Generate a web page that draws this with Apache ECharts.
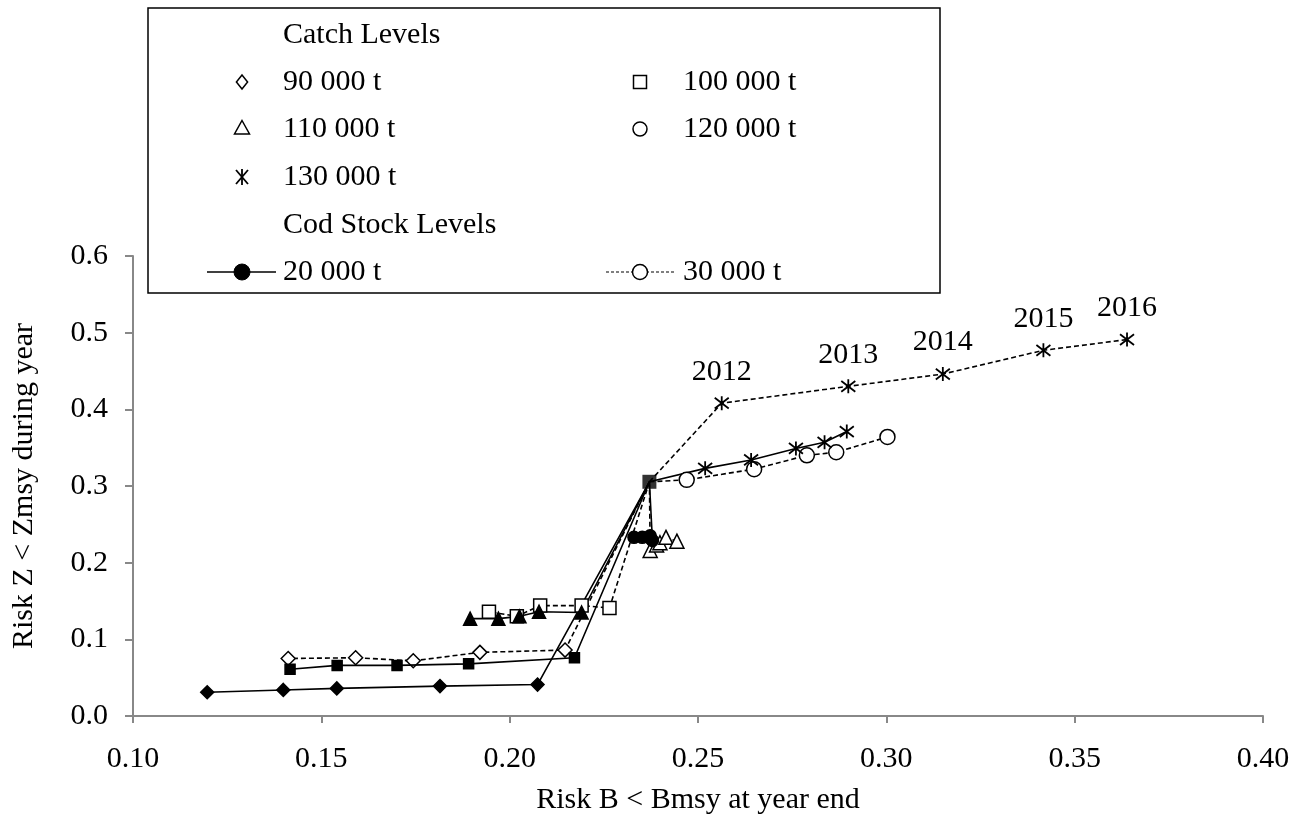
<!DOCTYPE html>
<html>
<head>
<meta charset="utf-8">
<script src="https://cdn.jsdelivr.net/npm/echarts@6/dist/echarts.min.js"></script>
<style>html,body{margin:0;padding:0;background:#fff}#c{width:1303px;height:826px}</style>
</head>
<body>
<div id="c"></div>
<script>
// Common starting point of all projections
const startPt = [0.2371, 0.3055];
// Catch 90 000 t
const c90_cod20 = [[0.2074,0.041],[0.1815,0.039],[0.1541,0.036],[0.1399,0.034],[0.1197,0.031]];
const c90_cod30 = [[0.2147,0.086],[0.1921,0.083],[0.1744,0.072],[0.1591,0.076],[0.1412,0.075]];
// Catch 100 000 t
const c100_cod20 = [[0.2172,0.076],[0.1891,0.068],[0.1701,0.066],[0.1542,0.066],[0.1417,0.061]];
const c100_cod30 = [[0.2265,0.141],[0.2191,0.144],[0.2081,0.144],[0.2019,0.130],[0.1945,0.136]];
// Catch 110 000 t
const c110_cod20 = [[0.2191,0.135],[0.2078,0.136],[0.2026,0.130],[0.1970,0.127],[0.1895,0.127]];
const c110_cod30 = [[0.2373,0.216],[0.2390,0.223],[0.2399,0.226],[0.2415,0.233],[0.2444,0.228]];
// Catch 120 000 t
const c120_cod20 = [[0.2379,0.229],[0.2376,0.231],[0.2373,0.235],[0.2352,0.233],[0.2330,0.233]];
const c120_cod30 = [[0.2470,0.308],[0.2649,0.322],[0.2789,0.340],[0.2867,0.344],[0.3003,0.364]];
// Catch 130 000 t
const c130_cod20 = [[0.2519,0.323],[0.2641,0.334],[0.2760,0.349],[0.2836,0.357],[0.2895,0.371]];
const c130_cod30 = [[0.2563,0.408],[0.2899,0.430],[0.3150,0.446],[0.3417,0.477],[0.3639,0.491]];
// Year labels of the projection steps
const years = ['2012','2013','2014','2015','2016'];
// Axis ticks
const xTicks = {min:0.10, max:0.40, step:0.05};
const yTicks = {min:0.0, max:0.6, step:0.1};

const FONT = '"Liberation Serif","Times New Roman",serif';
const ASTER = 'path://M0,0L10,10M10,0L0,10M5,-1.5L5,11.5';

function mk(name, pts, symbol, filled, dashed, size, z, labels) {
  const data = [{value: startPt, symbol: 'none', label:{show:false}}].concat(pts.map(p => ({value:p})));
  const isAst = symbol === ASTER;
  return {
    name, type:'line', data, z: z || 2,
    symbol, symbolSize: size, showSymbol:true,
    lineStyle:{color:'#000', width:1.6, type: dashed ? [5,3] : 'solid'},
    itemStyle:{color: isAst ? 'none' : (filled ? '#000' : '#fff'), borderColor:'#000', borderWidth: isAst ? 1.8 : 1.5, opacity:1},
    label: labels ? {show:true, position:'top', distance:7, fontFamily:FONT, fontSize:30, color:'#000',
      formatter: p => p.dataIndex > 0 ? labels[p.dataIndex-1] : ''} : {show:false},
    emphasis:{disabled:true}, animation:false
  };
}

const series = [
  mk('90 000 t / 20 000 t', c90_cod20, 'diamond', true, false, 13),
  mk('90 000 t / 30 000 t', c90_cod30, 'diamond', false, true, 14),
  mk('100 000 t / 30 000 t', c100_cod30, 'rect', false, true, 13),
  mk('110 000 t / 20 000 t', c110_cod20, 'triangle', true, false, 13),
  mk('110 000 t / 30 000 t', c110_cod30, 'triangle', false, true, 14),
  mk('120 000 t / 20 000 t', c120_cod20, 'circle', true, false, 12),
  mk('120 000 t / 30 000 t', c120_cod30, 'circle', false, true, 15),
  mk('130 000 t / 20 000 t', c130_cod20, ASTER, true, false, 14),
  mk('130 000 t / 30 000 t', c130_cod30, ASTER, false, true, 14, 2, years),
  mk('100 000 t / 20 000 t', c100_cod20, 'rect', true, false, 10, 3)
];
// common start point marker
series.push({type:'scatter', data:[startPt], symbol:'rect', symbolSize:14, z:5,
  itemStyle:{color:'#000'}, emphasis:{disabled:true}, animation:false});

// Legend drawn as graphic elements
const LX = 148, LY = 8, LW = 792, LH = 285;
const col1M = 242, col1T = 283, col2M = 640, col2T = 683;
const rows = [35, 82, 129, 177, 225, 272];
const txt = (x, y, s) => ({type:'text', x, y, style:{text:s, font:'30px ' + FONT, fill:'#000', textVerticalAlign:'middle', textAlign:'left'}, z:101});
const sty = (fill) => ({fill, stroke:'#000', lineWidth:1.5});
const seg = (x1,y1,x2,y2,w) => ({type:'line', shape:{x1,y1,x2,y2}, style:{stroke:'#000', lineWidth:w||1.8}, z:101});
function diamond(cx, cy, r){ return {type:'polygon', shape:{points:[[cx,cy-r],[cx+r*0.8,cy],[cx,cy+r],[cx-r*0.8,cy]]}, style:sty('#fff'), z:101}; }
function tri(cx, cy, r){ return {type:'polygon', shape:{points:[[cx,cy-r],[cx+r,cy+r*0.8],[cx-r,cy+r*0.8]]}, style:sty('#fff'), z:101}; }

const graphic = [
  {type:'rect', shape:{x:LX, y:LY, width:LW, height:LH}, style:{fill:'#fff', stroke:'#000', lineWidth:1.5}, z:100},
  txt(col1T, rows[0], 'Catch Levels'),
  diamond(col1M, rows[1], 7), txt(col1T, rows[1], '90 000 t'),
  {type:'rect', shape:{x:col2M-6.5, y:rows[1]-6.5, width:13, height:13}, style:sty('#fff'), z:101}, txt(col2T, rows[1], '100 000 t'),
  tri(col1M, rows[2]-1, 7.5), txt(col1T, rows[2], '110 000 t'),
  {type:'circle', shape:{cx:col2M, cy:rows[2], r:7}, style:sty('#fff'), z:101}, txt(col2T, rows[2], '120 000 t'),
  seg(col1M-6, rows[3]-7, col1M+6, rows[3]+7), seg(col1M+6, rows[3]-7, col1M-6, rows[3]+7), seg(col1M, rows[3]-8, col1M, rows[3]+8),
  txt(col1T, rows[3], '130 000 t'),
  txt(col1T, rows[4], 'Cod Stock Levels'),
  seg(207, rows[5], 276, rows[5], 1.5),
  {type:'circle', shape:{cx:col1M, cy:rows[5], r:8}, style:{fill:'#000', stroke:'#000'}, z:102},
  txt(col1T, rows[5], '20 000 t'),
  {type:'line', shape:{x1:606, y1:rows[5], x2:676, y2:rows[5]}, style:{stroke:'#000', lineWidth:1.2, lineDash:[3,2]}, z:101},
  {type:'circle', shape:{cx:col2M, cy:rows[5], r:7.5}, style:sty('#fff'), z:102},
  txt(col2T, rows[5], '30 000 t')
];

const chart = echarts.init(document.getElementById('c'), null, {renderer:'canvas'});
chart.setOption({
  animation:false,
  backgroundColor:'#fff',
  grid:{left:133, right:40, top:256, bottom:110, containLabel:false},
  xAxis:{type:'value', min:xTicks.min, max:xTicks.max, interval:xTicks.step,
    name:'Risk B < Bmsy at year end', nameLocation:'middle', nameGap:69,
    nameTextStyle:{fontFamily:FONT, fontSize:30, color:'#000'},
    axisLine:{show:true, lineStyle:{color:'#888', width:2}},
    axisTick:{show:true, length:7, lineStyle:{color:'#888', width:2}},
    axisLabel:{fontFamily:FONT, fontSize:30, color:'#000', margin:28, formatter:v => v.toFixed(2)},
    splitLine:{show:false}},
  yAxis:{type:'value', min:yTicks.min, max:yTicks.max, interval:yTicks.step,
    name:'Risk Z < Zmsy during year', nameLocation:'middle', nameGap:94, nameRotate:90,
    nameTextStyle:{fontFamily:FONT, fontSize:30, color:'#000'},
    axisLine:{show:true, lineStyle:{color:'#888', width:2}},
    axisTick:{show:true, length:8, lineStyle:{color:'#888', width:2}},
    axisLabel:{fontFamily:FONT, fontSize:30, color:'#000', margin:25, formatter:v => v.toFixed(1)},
    splitLine:{show:false}},
  series,
  graphic
});
</script>
</body>
</html>
